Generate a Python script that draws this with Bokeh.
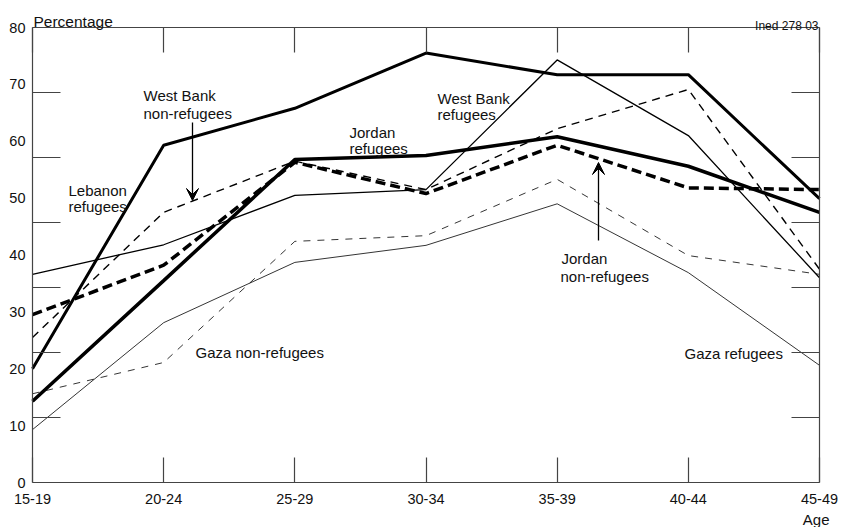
from bokeh.plotting import figure
from bokeh.models import (Range1d, LinearAxis, FixedTicker, Label,
                          Arrow, VeeHead)
from bokeh.embed import file_html
from bokeh.resources import INLINE

# ---- data ----
ages = ["15-19", "20-24", "25-29", "30-34", "35-39", "40-44", "45-49"]
y_tick_labels = [0, 10, 20, 30, 40, 50, 60, 70, 80]
lebanon_ref = [20.0, 59.3, 65.8, 75.5, 71.7, 71.7, 49.9]
jordan_ref = [14.3, 35.5, 56.8, 57.5, 60.8, 55.6, 47.5]
jordan_nonref = [29.5, 38.2, 56.3, 50.8, 59.3, 51.8, 51.5]
westbank_nonref = [25.5, 47.5, 56.5, 51.5, 62.2, 69.1, 37.5]
westbank_ref = [36.6, 41.8, 50.5, 51.5, 74.3, 61.0, 36.0]
gaza_nonref = [15.6, 21.1, 42.4, 43.4, 53.3, 39.9, 36.6]
gaza_ref = [9.3, 28.1, 38.7, 41.7, 49.0, 36.9, 20.6]

xpos = list(range(len(ages)))
AX = "#444444"
TXT = "#111111"
FONT = "Liberation Sans"

# layout geometry (pixels on the canvas)
W, H = 842, 527
BOX_L, BOX_R, BOX_T, BOX_B = 32, 819, 27, 482
YMAX = 80
XMAX = len(ages) - 1
sx = (BOX_R - BOX_L) / XMAX
sy = (BOX_B - BOX_T) / YMAX

p = figure(width=W, height=H, output_backend="svg", toolbar_location=None,
           x_range=Range1d(-BOX_L / sx, XMAX + (W - BOX_R) / sx),
           y_range=Range1d(-(H - BOX_B) / sy, YMAX + BOX_T / sy),
           x_axis_location=None, y_axis_location=None,
           min_border=0, min_border_left=0, min_border_right=0,
           min_border_top=0, min_border_bottom=0)
p.outline_line_color = None
p.grid.visible = False
p.background_fill_color = "white"
p.border_fill_color = "white"

n_div = 7
inner_ticks = [YMAX * k / n_div for k in range(1, n_div)]

# left axis: labels 0..80, inner tick marks at 7 divisions
yl = LinearAxis(ticker=FixedTicker(ticks=y_tick_labels, minor_ticks=inner_ticks),
                fixed_location=0, bounds=(0, YMAX),
                major_tick_in=0, major_tick_out=0, minor_tick_in=28, minor_tick_out=0,
                axis_line_color=AX, axis_line_width=1.2, minor_tick_line_color=AX,
                minor_tick_line_width=1.2, major_tick_line_color=None,
                major_label_standoff=7, major_label_text_font=FONT,
                major_label_text_font_size="14.5px", major_label_text_color=TXT)
p.add_layout(yl, "left")

# right axis: frame line with inner ticks
yr = LinearAxis(ticker=FixedTicker(ticks=[], minor_ticks=inner_ticks),
                fixed_location=XMAX, bounds=(0, YMAX),
                major_tick_in=0, major_tick_out=0, minor_tick_in=28, minor_tick_out=0,
                axis_line_color=AX, axis_line_width=1.2, minor_tick_line_color=AX,
                minor_tick_line_width=1.2, major_label_text_color=None)
p.add_layout(yr, "right")

# bottom axis with age labels
xb = LinearAxis(ticker=FixedTicker(ticks=xpos), fixed_location=0, bounds=(0, XMAX),
                major_label_overrides={i: a for i, a in enumerate(ages)},
                major_tick_in=25, major_tick_out=0, minor_tick_in=0, minor_tick_out=0,
                axis_line_color=AX, axis_line_width=1.2, major_tick_line_color=AX,
                major_tick_line_width=1.2, major_label_standoff=11,
                major_label_text_font=FONT, major_label_text_font_size="14.5px",
                major_label_text_color=TXT)
p.add_layout(xb, "below")

# top axis: frame line with inner ticks
xt = LinearAxis(ticker=FixedTicker(ticks=[], minor_ticks=xpos), fixed_location=YMAX,
                bounds=(0, XMAX),
                major_tick_in=0, major_tick_out=0, minor_tick_in=25, minor_tick_out=0,
                axis_line_color=AX, axis_line_width=1.2, minor_tick_line_color=AX,
                minor_tick_line_width=1.2, major_label_text_color=None)
p.add_layout(xt, "above")

# lines
p.line(xpos, gaza_ref, line_color="black", line_width=0.8)
p.line(xpos, gaza_nonref, line_color="black", line_width=0.8, line_dash="7 7")
p.line(xpos, westbank_ref, line_color="black", line_width=1.3)
p.line(xpos, westbank_nonref, line_color="black", line_width=1.4, line_dash="8 6")
p.line(xpos, lebanon_ref, line_color="black", line_width=3)
p.line(xpos, jordan_ref, line_color="black", line_width=3.5)
p.line(xpos, jordan_nonref, line_color="black", line_width=3.5, line_dash="10 5")

px = lambda X: (X - BOX_L) / sx
py = lambda Y: (BOX_B - Y) / sy


def lab(text, x, y, size="15px", align="left"):
    p.add_layout(Label(x=px(x), y=py(y), text=text, text_font=FONT, text_font_size=size,
                       text_align=align, text_baseline="alphabetic", text_color=TXT))


lab("Percentage", 33, 20.7, size="15.5px")
lab("Ined 278 03", 818, 25, size="12px", align="right")
lab("Age", 829, 519, size="15px", align="right")

lab("West Bank", 143, 95)
lab("non-refugees", 143, 112.7)
lab("Lebanon", 68, 190)
lab("refugees", 68, 206)
lab("Jordan", 349, 131.7)
lab("refugees", 349, 147.5)
lab("West Bank", 437, 98)
lab("refugees", 437, 114)
lab("Jordan", 561, 258)
lab("non-refugees", 560, 276)
lab("Gaza non-refugees", 195, 352)
lab("Gaza refugees", 684, 353)

for (x0, y0, y1) in [(192, 122, 200), (598, 240, 162)]:
    p.add_layout(Arrow(end=VeeHead(size=12, fill_color="black", line_color="black"),
                       x_start=px(x0), y_start=py(y0), x_end=px(x0), y_end=py(y1),
                       line_width=1.3, line_color="black"))

open("out.html", "w").write(file_html(p, INLINE))
